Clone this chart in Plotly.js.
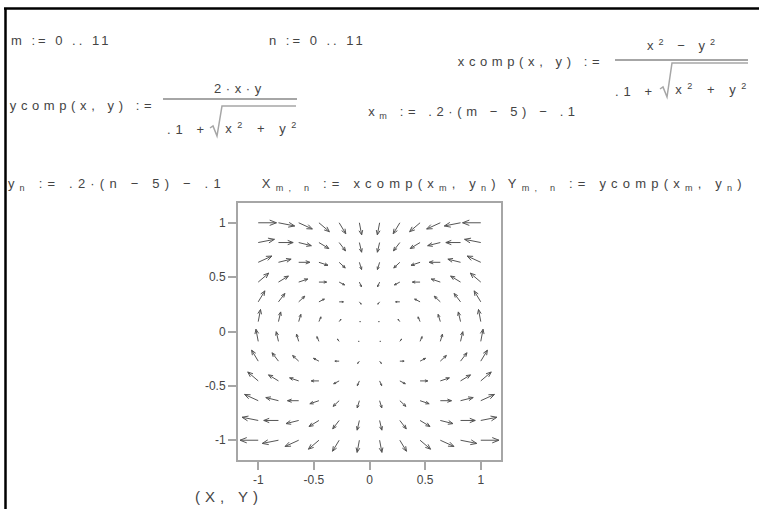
<!DOCTYPE html>
<html>
<head>
<meta charset="utf-8">
<script src="https://cdn.plot.ly/plotly-3.0.1.min.js"></script>
<style>
  html, body { margin: 0; padding: 0; background: #fff; }
  #plot { width: 759px; height: 509px; }
  .annotation-text { letter-spacing: 3px; }
  .annotation[data-index="2"] .annotation-text,
  .annotation[data-index="6"] .annotation-text,
  .annotation[data-index="7"] .annotation-text,
  .annotation[data-index="10"] .annotation-text { letter-spacing: 4.6px; }
  .annotation[data-index="3"] .annotation-text,
  .annotation[data-index="4"] .annotation-text,
  .annotation[data-index="8"] .annotation-text { letter-spacing: 5px; }
  .annotation[data-index="5"] .annotation-text,
  .annotation[data-index="9"] .annotation-text { letter-spacing: 5.5px; }
  .annotation[data-index="11"] .annotation-text,
  .annotation[data-index="12"] .annotation-text,
  .annotation[data-index="13"] .annotation-text { letter-spacing: 5.2px; }
  .annotation[data-index="14"] .annotation-text { letter-spacing: 5px; }
</style>
</head>
<body>
<div id="plot"></div>
<script>
// Range variables of the worksheet
const mRange = [0, 1, 2, 3, 4, 5, 6, 7, 8, 9, 10, 11];
const nRange = [0, 1, 2, 3, 4, 5, 6, 7, 8, 9, 10, 11];
// Sample points x_m and y_n
const xm = [-1.1, -0.9, -0.7, -0.5, -0.3, -0.1, 0.1, 0.3, 0.5, 0.7, 0.9, 1.1];
const yn = [-1.1, -0.9, -0.7, -0.5, -0.3, -0.1, 0.1, 0.3, 0.5, 0.7, 0.9, 1.1];
// Where the matrix columns / rows sit on the plot axes
const gridPos = [-1, -0.8182, -0.6364, -0.4545, -0.2727, -0.0909, 0.0909, 0.2727, 0.4545, 0.6364, 0.8182, 1];
const tickVals = [-1, -0.5, 0, 0.5, 1];
const tickText = ['-1', '-0.5', '0', '0.5', '1'];

// The two component functions defined in the worksheet
function xcomp(x, y) { return (x * x - y * y) / (0.1 + Math.sqrt(x * x + y * y)); }
function ycomp(x, y) { return 2 * x * y / (0.1 + Math.sqrt(x * x + y * y)); }

// Component matrices X[m][n], Y[m][n]
const X = mRange.map(i => nRange.map(j => xcomp(xm[i], yn[j])));
const Y = mRange.map(i => nRange.map(j => ycomp(xm[i], yn[j])));

// Build arrow polylines: the matrix is laid out with rows going down the
// vertical axis and columns across, so each arrow is (Y, -X) in plot space.
let maxMag = 0;
mRange.forEach(i => nRange.forEach(j => {
  maxMag = Math.max(maxMag, Math.hypot(X[i][j], Y[i][j]));
}));
const cell = gridPos[1] - gridPos[0];
const scale = 0.9 * cell / maxMag;
const ax = [], ay = [];
const headFrac = 0.4, headAng = 22 * Math.PI / 180;
mRange.forEach(i => nRange.forEach(j => {
  const h = gridPos[j];
  const v = gridPos[gridPos.length - 1 - i];
  const dx = Y[i][j] * scale;
  const dy = -X[i][j] * scale;
  const L = Math.hypot(dx, dy);
  const tx = h + dx, ty = v + dy;
  ax.push(h, tx, null);
  ay.push(v, ty, null);
  if (L > 0) {
    const ang = Math.atan2(dy, dx);
    const hl = headFrac * L;
    [headAng, -headAng].forEach(a => {
      ax.push(tx, tx - hl * Math.cos(ang + a), null);
      ay.push(ty, ty - hl * Math.sin(ang + a), null);
    });
  }
}));

// Page geometry helpers (pixels -> paper units)
const W = 759, H = 509, ML = 238, MT = 203, PW = 263, PH = 257;
const MR = W - ML - PW, MB = H - MT - PH;
const px = x => (x - ML) / PW;
const py = y => (MT + PH - y) / PH;

const ink = '#444';
const arrowInk = '#555';
const frame = '#a6a6a6';
const font = { family: 'Liberation Sans, Arial, sans-serif', size: 13, color: ink };

// Text placed by its horizontal centre (x) and vertical middle (y)
function T(x, y, text, size) {
  return {
    xref: 'paper', yref: 'paper', x: px(x), y: py(y), text: text,
    showarrow: false, xanchor: 'center', yanchor: 'middle',
    font: Object.assign({}, font, size ? { size: size } : {})
  };
}
function hline(x0, x1, y, color, w) {
  return { type: 'line', xref: 'paper', yref: 'paper', x0: px(x0), x1: px(x1), y0: py(y), y1: py(y),
           line: { color: color, width: w } };
}
function vline(x, y0, y1, color, w) {
  return { type: 'line', xref: 'paper', yref: 'paper', x0: px(x), x1: px(x), y0: py(y0), y1: py(y1),
           line: { color: color, width: w } };
}
function pathShape(pts, color, w) {
  const d = pts.map((p, k) => (k ? 'L' : 'M') + px(p[0]).toFixed(5) + ',' + py(p[1]).toFixed(5)).join(' ');
  return { type: 'path', xref: 'paper', yref: 'paper', path: d, line: { color: color, width: w } };
}

const annotations = [
  T(61, 40, 'm := 0 .. 11'),
  T(317, 40, 'n := 0 .. 11'),
  T(531, 61, 'xcomp(x, y) :='),
  T(683, 45, 'x<sup>2</sup> − y<sup>2</sup>'),
  T(636, 91, '.1 +'),
  T(713, 89, 'x<sup>2</sup> + y<sup>2</sup>'),
  T(83, 105, 'ycomp(x, y) :='),
  T(240, 88, '2·x·y'),
  T(188, 130, '.1 +'),
  T(263, 128, 'x<sup>2</sup> + y<sup>2</sup>'),
  T(474, 113, 'x<sub>m</sub> := .2·(m − 5) − .1'),
  T(117, 184, 'y<sub>n</sub> := .2·(n − 5) − .1'),
  T(381, 184, 'X<sub>m, n</sub> := xcomp(x<sub>m</sub>, y<sub>n</sub>)'),
  T(627, 184, 'Y<sub>m, n</sub> := ycomp(x<sub>m</sub>, y<sub>n</sub>)'),
  T(229, 496, '(X, Y)', 15)
];

const shapes = [
  // worksheet border
  hline(4, 759, 8.5, '#000', 2.5),
  vline(5.5, 8, 509, '#000', 2.5),
  // fraction bars
  hline(615, 748, 60, frame, 2),
  hline(163, 297, 99, frame, 2),
  // radical signs
  pathShape([[660, 89], [663, 87], [667, 97], [672, 63], [748, 63]], frame, 1.5),
  pathShape([[210, 128], [213, 126], [217, 136], [222, 106], [296, 106]], frame, 1.5)
];

const axisCommon = {
  range: [-1 - cell, 1 + cell],
  showline: true, mirror: true, linecolor: frame, linewidth: 2,
  ticks: 'outside', ticklen: 8, tickwidth: 2, tickcolor: frame,
  tickvals: tickVals, ticktext: tickText,
  tickfont: { family: 'Liberation Sans, Arial, sans-serif', size: 12, color: ink },
  showgrid: false, zeroline: false, fixedrange: true
};

const data = [{
  type: 'scatter', mode: 'lines', x: ax, y: ay,
  line: { color: arrowInk, width: 1 }, hoverinfo: 'skip', showlegend: false
}];

const layout = {
  width: W, height: H,
  margin: { l: ML, r: MR, t: MT, b: MB, pad: 0 },
  paper_bgcolor: '#fff', plot_bgcolor: '#fff',
  xaxis: Object.assign({}, axisCommon),
  yaxis: Object.assign({}, axisCommon),
  annotations: annotations,
  shapes: shapes,
  showlegend: false
};

Plotly.newPlot('plot', data, layout, { staticPlot: true, displayModeBar: false });
</script>
</body>
</html>
